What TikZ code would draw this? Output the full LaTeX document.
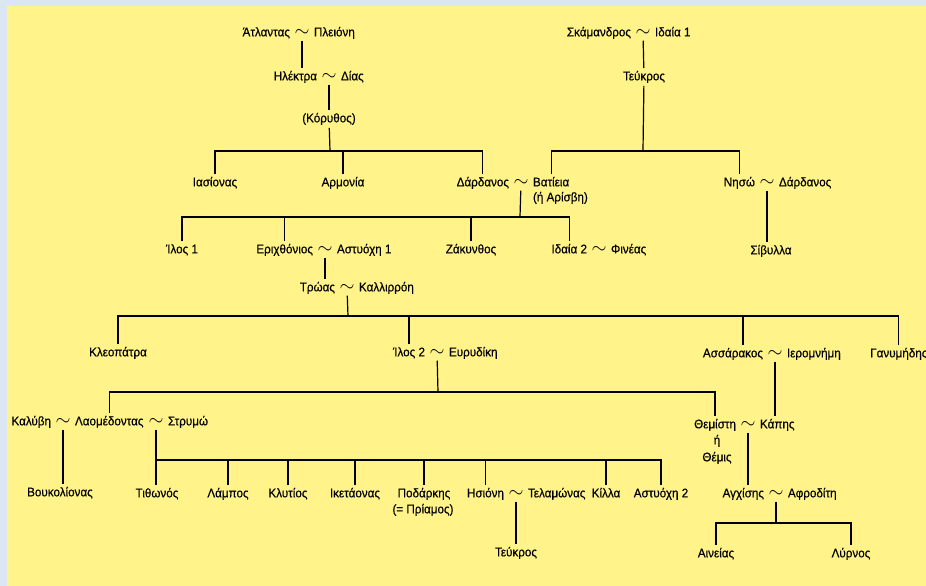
\documentclass[tikz,border=0pt]{standalone}
\usepackage{fontspec}
\setmainfont{Liberation Sans}
\newfontfamily\treefont{Liberation Sans}[FakeStretch=0.93,FakeBold=0.4]
\usetikzlibrary{positioning,calc}
\definecolor{pagebg}{HTML}{DCE6F2}
\definecolor{paper}{HTML}{FFF38A}

\begin{document}
\begin{tikzpicture}[x=0.75pt,y=-0.75pt,
    person/.style={inner sep=1.5pt,text height=7.5pt,text depth=2.5pt,font=\treefont\fontsize{9.4}{10}\selectfont},
    wed/.style={person,inner sep=0.5pt,font=\Large},
    kin/.style={line width=0.9pt}]
    \useasboundingbox (0,0) rectangle (926,586);
    \fill[pagebg] (0,0) rectangle (926,586);
    \fill[paper] (7,6) rectangle (926,586);

    % Atlas line
    \node[wed] (atpl) at (302,33) {$\sim$};
    \node[person,left=1pt of atpl] (atlas) {Άτλαντας};
    \node[person,right=1pt of atpl] (pleioni) {Πλειόνη};
    \node[wed] (elzeus) at (329,77) {$\sim$};
    \node[person,left=1pt of elzeus] (ilektra) {Ηλέκτρα};
    \node[person,right=1pt of elzeus] (dias) {Δίας};
    \node[person] (korythos) at (329,119) {(Κόρυθος)};
    \node[person] (iasionas) at (215,183) {Ιασίονας};
    \node[person] (armonia) at (343,183) {Αρμονία};

    % Skamandros line
    \node[wed] (skid) at (643,33) {$\sim$};
    \node[person,left=1pt of skid] (skamandros) {Σκάμανδρος};
    \node[person,right=1pt of skid] (idaia1) {Ιδαία 1};
    \node[person] (teukros) at (644,77) {Τεύκρος};
    \node[wed] (dv) at (521,183) {$\sim$};
    \node[person,left=1pt of dv] (dardanos) {Δάρδανος};
    \node[person,right=1pt of dv] (vateia) {Βατίεια};
    \node[person,anchor=west] (arisvi) at ($(vateia.west)+(0,15)$) {(ή Αρίσβη)};
    \node[wed] (nd) at (767,183) {$\sim$};
    \node[person,left=1pt of nd] (niso) {Νησώ};
    \node[person,right=1pt of nd] (dardanos2) {Δάρδανος};
    \node[person] (sivylla) at (771,251) {Σίβυλλα};

    % children of Dardanos
    \node[person] (ilos1) at (182,250) {Ίλος 1};
    \node[wed] (ea) at (325,250) {$\sim$};
    \node[person,left=1pt of ea] (erichthonios) {Εριχθόνιος};
    \node[person,right=1pt of ea] (astyochi1) {Αστυόχη 1};
    \node[person] (zakynthos) at (471,250) {Ζάκυνθος};
    \node[wed] (ifi) at (599,250) {$\sim$};
    \node[person,left=1pt of ifi] (idaia2) {Ιδαία 2};
    \node[person,right=1pt of ifi] (fineas) {Φινέας};
    \node[wed] (tk) at (347,288) {$\sim$};
    \node[person,left=1pt of tk] (troas) {Τρώας};
    \node[person,right=1pt of tk] (kallirroi) {Καλλιρρόη};

    % children of Tros
    \node[person] (kleopatra) at (118,353) {Κλεοπάτρα};
    \node[wed] (ie) at (437,353) {$\sim$};
    \node[person,left=1pt of ie] (ilos2) {Ίλος 2};
    \node[person,right=1pt of ie] (evrydiki) {Ευρυδίκη};
    \node[wed] (ai) at (775,354) {$\sim$};
    \node[person,left=1pt of ai] (assarakos) {Ασσάρακος};
    \node[person,right=1pt of ai] (ieromnimi) {Ιερομνήμη};
    \node[person,anchor=west] (ganymidis) at (868,354) {Γανυμήδης};

    % Laomedon and Kapys
    \node[wed] (kl) at (63,422) {$\sim$};
    \node[person,left=1pt of kl] (kalyvi) {Καλύβη};
    \node[person,right=1pt of kl] (laomedontas) {Λαομέδοντας};
    \node[wed] (ls) at (156,422) {$\sim$};
    \node[person,right=1pt of ls] (strymo) {Στρυμώ};
    \node[wed] (tk2) at (748,425) {$\sim$};
    \node[person,left=1pt of tk2] (themisti) {Θεμίστη};
    \node[person,right=1pt of tk2] (kapis) {Κάπης};
    \node[person] (eta) at (717,441) {ή};
    \node[person] (themis) at (717,458) {Θέμις};

    % grandchildren
    \node[person] (voukolionas) at (60,493) {Βουκολίονας};
    \node[person] (tithonos) at (157,494) {Τιθωνός};
    \node[person] (lampos) at (228,494) {Λάμπος};
    \node[person] (klytios) at (288,494) {Κλυτίος};
    \node[person] (iketaonas) at (355,494) {Ικετάονας};
    \node[person] (podarkis) at (424,494) {Ποδάρκης};
    \node[person] (priamos) at (423,510) {(= Πρίαμος)};
    \node[wed] (it) at (516,494) {$\sim$};
    \node[person,left=1pt of it] (isioni) {Ησιόνη};
    \node[person,right=1pt of it] (telamonas) {Τελαμώνας};
    \node[person] (killa) at (606,494) {Κίλλα};
    \node[person] (astyochi2) at (661,494) {Αστυόχη 2};
    \node[wed] (aa) at (776,494) {$\sim$};
    \node[person,left=1pt of aa] (anchisis) {Αγχίσης};
    \node[person,right=1pt of aa] (afroditi) {Αφροδίτη};
    \node[person] (teukros2) at (516,553) {Τεύκρος};
    \node[person] (aineias) at (716,554) {Αινείας};
    \node[person] (lyrnos) at (851,554) {Λύρνος};

    % bars
    \coordinate (kbar) at (330,151);
    \coordinate (tbar) at (643,151);
    \coordinate (dbar) at (520,217);
    \coordinate (trbar) at (348,316);
    \coordinate (ibar) at (438,392);
    \coordinate (sbar) at (156,460);
    \coordinate (abar) at (776,523);
    \coordinate (asdrop) at ($(assarakos.north)+(10,0)$);

    \draw[kin] (atpl) -- (atpl |- ilektra.north);
    \draw[kin] (elzeus) -- (korythos);
    \draw[kin] (korythos) -- (kbar);
    \draw[kin] (iasionas) |- (kbar) -| (dardanos);
    \draw[kin] (armonia) -- (armonia |- kbar);
    \draw[kin] (skid) -- (teukros);
    \draw[kin] (teukros) -- (tbar);
    \draw[kin] (vateia) |- (tbar) -| (niso);
    \draw[kin] (nd) -- (nd |- sivylla.north);
    \draw[kin] (dv) -- (dbar);
    \draw[kin] (ilos1) |- (dbar) -| (idaia2);
    \draw[kin] (erichthonios) -- (erichthonios |- dbar);
    \draw[kin] (zakynthos) -- (zakynthos |- dbar);
    \draw[kin] (ea) -- (ea |- troas.north);
    \draw[kin] (tk) -- (trbar);
    \draw[kin] (kleopatra) |- (trbar) -| (ganymidis);
    \draw[kin] (ilos2) -- (ilos2 |- trbar);
    \draw[kin] (asdrop) -- (asdrop |- trbar);
    \draw[kin] (ie) -- (ibar);
    \draw[kin] (laomedontas) |- (ibar) -| (themisti);
    \draw[kin] (ai) -- (ai |- kapis.north);
    \draw[kin] (kl) -- (kl |- voukolionas.north);
    \draw[kin] (ls) -- (ls |- tithonos.north);
    \draw[kin] (sbar) -| (astyochi2);
    \foreach \kid in {lampos,klytios,iketaonas,podarkis,isioni,killa}
      \draw[kin] (\kid) -- (\kid |- sbar);
    \draw[kin] (it) -- (teukros2);
    \draw[kin] (tk2) -- (tk2 |- anchisis.north);
    \draw[kin] (aa) -- (abar);
    \draw[kin] (aineias) |- (abar) -| (lyrnos);
\end{tikzpicture}
\end{document}
